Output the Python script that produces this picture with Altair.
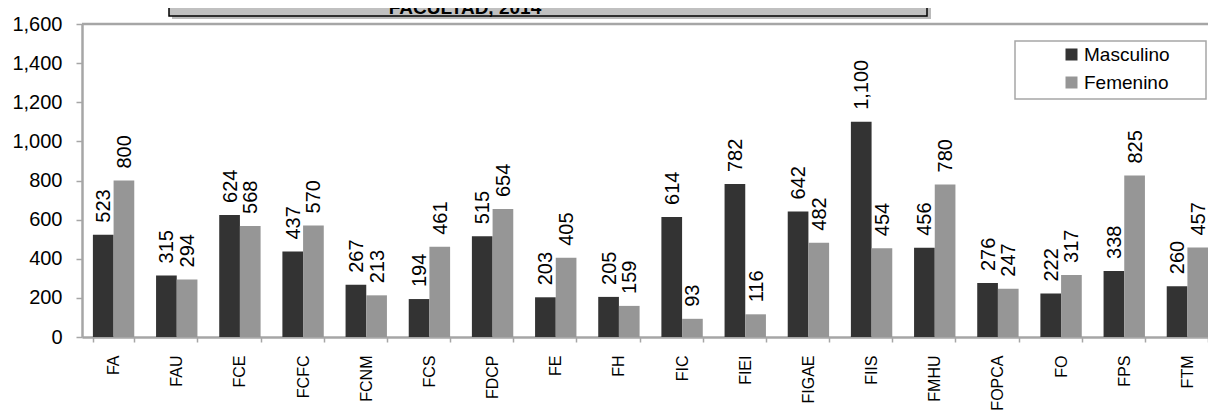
import altair as alt
import pandas as pd

# ---- data ----
facultades = ["FA", "FAU", "FCE", "FCFC", "FCNM", "FCS", "FDCP", "FE", "FH",
              "FIC", "FIEI", "FIGAE", "FIIS", "FMHU", "FOPCA", "FO", "FPS", "FTM"]
masculino = [523, 315, 624, 437, 267, 194, 515, 203, 205,
             614, 782, 642, 1100, 456, 276, 222, 338, 260]
femenino = [800, 294, 568, 570, 213, 461, 654, 405, 159,
            93, 116, 482, 454, 780, 247, 317, 825, 457]
series = ["Masculino", "Femenino"]
colores = ["#333333", "#969696"]
y_ticks = [0, 200, 400, 600, 800, 1000, 1200, 1400, 1600]
titulo = "FACULTAD, 2014"

rows = []
for f, m, w in zip(facultades, masculino, femenino):
    rows.append({"Facultad": f, "Sexo": series[0], "Valor": m})
    rows.append({"Facultad": f, "Sexo": series[1], "Valor": w})
df = pd.DataFrame(rows)

# ---- layout ----
W_PLOT = 1126
X_RANGE = 1137
H = 313
FONT = "Liberation Sans"
GRAY_LINE = "#a6a6a6"

x_enc = alt.X(
    "Facultad:N", sort=facultades,
    scale=alt.Scale(range=[0, X_RANGE], paddingInner=0.345, paddingOuter=0.1725),
    axis=alt.Axis(title=None, labelAngle=-90, tickBand="extent", tickSize=5,
                  labelPadding=13, labelFontSize=16, labelColor="#000000",
                  domainColor=GRAY_LINE, domainWidth=2.5, tickColor=GRAY_LINE,
                  tickWidth=1.5, grid=False, labelFont=FONT),
)
xo_enc = alt.XOffset("Sexo:N", sort=series,
                     scale=alt.Scale(paddingInner=0, paddingOuter=0))
y_enc = alt.Y(
    "Valor:Q",
    scale=alt.Scale(domain=[0, 1600], nice=False),
    axis=alt.Axis(title=None, values=y_ticks, format=",d", tickSize=6,
                  labelPadding=14, labelFontSize=20, labelColor="#000000",
                  domainColor=GRAY_LINE, domainWidth=2.5, tickColor=GRAY_LINE,
                  tickWidth=1.5, grid=False, labelFont=FONT),
)
color_enc = alt.Color(
    "Sexo:N", sort=series,
    scale=alt.Scale(domain=series, range=colores),
    legend=alt.Legend(title=None, orient="none", legendX=980, legendY=21,
                      symbolType="square", symbolSize=144, symbolStrokeWidth=0,
                      labelFontSize=19, labelFont=FONT, labelColor="#000000",
                      labelOffset=3, rowPadding=8, padding=0),
)

base = alt.Chart(df)

bars = base.mark_bar().encode(x=x_enc, xOffset=xo_enc, y=y_enc, color=color_enc)

labels = base.mark_text(angle=270, align="left", baseline="middle", dx=12, dy=1,
                        fontSize=20, font=FONT, color="#000000").encode(
    x=x_enc, xOffset=xo_enc, y=y_enc, text=alt.Text("Valor:Q", format=",d"))

one = pd.DataFrame({"t": [titulo]})

shadow = alt.Chart(one).mark_rect(fill="#8c8c8c", opacity=0.6).encode(
    x=alt.value(90), x2=alt.value(849), y=alt.value(-60), y2=alt.value(-5))
title_box = alt.Chart(one).mark_rect(fill="#c0c0c0", stroke="#000000",
                                     strokeWidth=1.5).encode(
    x=alt.value(87), x2=alt.value(845), y=alt.value(-60), y2=alt.value(-8))
title_text = alt.Chart(one).mark_text(fontSize=19, fontWeight="bold", font=FONT,
                                      align="center", baseline="alphabetic",
                                      color="#000000").encode(
    x=alt.value(383), y=alt.value(-10), text="t:N")

top_border = alt.Chart(one).mark_rule(color=GRAY_LINE, strokeWidth=2.5).encode(
    x=alt.value(0), x2=alt.value(X_RANGE), y=alt.value(0))

legend_box = alt.Chart(one).mark_rect(fillOpacity=0, stroke=GRAY_LINE,
                                      strokeWidth=1.5).encode(
    x=alt.value(933), x2=alt.value(1124), y=alt.value(17), y2=alt.value(75))

chart = alt.layer(
    top_border, bars, labels, legend_box, shadow, title_box, title_text
).properties(
    width=W_PLOT, height=H,
    autosize=alt.AutoSizeParams(type="none"),
    padding={"left": 74, "top": 16, "right": 0, "bottom": 74},
    background="#ffffff",
).configure_view(stroke=None).configure(font=FONT)

chart.save("out.html", embed_options={"renderer": "svg", "actions": False})
